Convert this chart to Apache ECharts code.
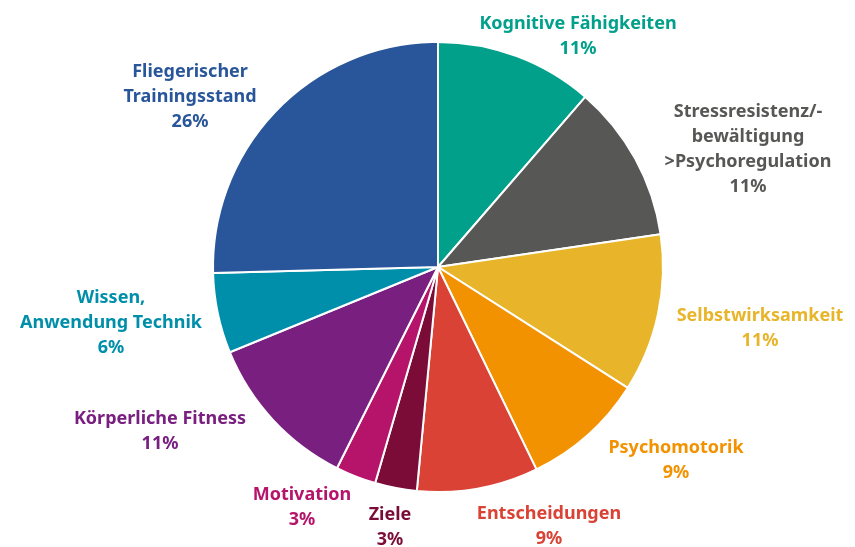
<!DOCTYPE html>
<html>
<head>
<meta charset="utf-8">
<script src="https://cdn.jsdelivr.net/npm/echarts@6/dist/echarts.min.js"></script>
<style>
  html, body { margin: 0; padding: 0; background: #fff; }
  #chart { width: 855px; height: 547px; }
</style>
</head>
<body>
<div id="chart"></div>
<script>
// categories, clockwise from 12 o'clock
const categories = [
  'Kognitive Fähigkeiten',
  'Stressresistenz/-\nbewältigung\n>Psychoregulation',
  'Selbstwirksamkeit',
  'Psychomotorik',
  'Entscheidungen',
  'Ziele',
  'Motivation',
  'Körperliche Fitness',
  'Wissen,\nAnwendung Technik',
  'Fliegerischer\nTrainingsstand'
]
// slice sizes (share in %)
const shares = [11.35, 11.3, 11.35, 8.75, 8.7, 3.0, 2.9, 11.4, 5.75, 25.4]
// percentages as printed in the labels
const shownPct = [11, 11, 11, 9, 9, 3, 3, 11, 6, 26]

const colors = ['#00a08b', '#575756', '#e8b52a', '#f39200', '#d94234',
  '#7b0c37', '#b5146a', '#781f80', '#008faa', '#29569a']

// where each label's text block sits (center point, px)
const labelSpots = [[578, 36], [748, 149], [760, 328], [676, 460], [549, 526],
  [390, 527], [302, 507], [160, 431], [111, 323], [190, 97]]

const chart = echarts.init(document.getElementById('chart'))

chart.setOption({
  animation: false,
  series: [{
    type: 'pie',
    center: [438, 267],
    radius: 225,
    startAngle: 90,
    clockwise: true,
    avoidLabelOverlap: false,
    itemStyle: { borderColor: '#fff', borderWidth: 2 },
    label: {
      show: true,
      position: 'outside',
      fontFamily: 'Noto Sans',
      fontWeight: 700,
      fontSize: 18,
      lineHeight: 25,
      formatter: function (p) {
        return p.name + '\n' + shownPct[p.dataIndex] + '%'
      }
    },
    labelLine: { show: false },
    labelLayout: function (p) {
      const s = labelSpots[p.dataIndex]
      return { x: s[0], y: s[1], align: 'center', verticalAlign: 'middle' }
    },
    emphasis: { disabled: true },
    data: categories.map(function (c, i) {
      return {
        name: c,
        value: shares[i],
        itemStyle: { color: colors[i] },
        label: { color: colors[i] }
      }
    })
  }]
})
</script>
</body>
</html>
